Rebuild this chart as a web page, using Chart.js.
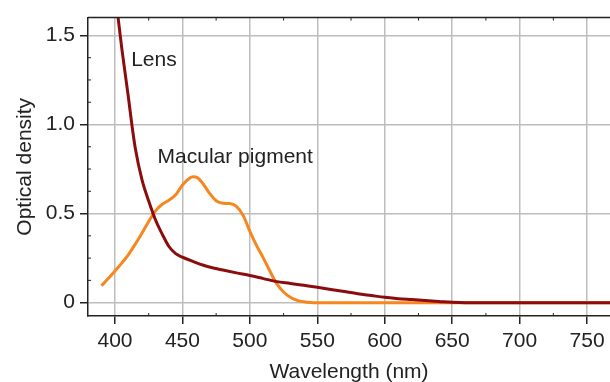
<!DOCTYPE html>
<html><head><meta charset="utf-8">
<script src="https://cdn.jsdelivr.net/npm/chart.js@4.4.0/dist/chart.umd.min.js"></script>
<style>html,body{margin:0;padding:0;background:#fff}</style>
</head><body>
<canvas id="c" width="610" height="382"></canvas>
<script>
// ---- data ----
const lensWavelength = [400,402,405,410,412.5,415,420,425,430,435,440,445,450,460,470,480,490,500,510,520,530,540,550,560,570,580,590,600,610,620,630,640,650,660,680,700,720,740,760,780];
const lensDensity = [1.75,1.62,1.43,1.15,1.0,0.87,0.69,0.57,0.465,0.385,0.315,0.275,0.255,0.225,0.2,0.183,0.167,0.152,0.135,0.118,0.108,0.097,0.086,0.074,0.062,0.05,0.04,0.03,0.022,0.017,0.012,0.007,0.002,0,0,0,0,0,0,0];
const mpWavelength = [390,395,400,405,410,415,420,425,430,435,440,445,450,455,458,461,465,470,475,480,485,490,495,500,505,510,515,520,525,530,535,540,545,550,600,650,700,780];
const mpDensity = [0.095,0.135,0.178,0.222,0.27,0.328,0.39,0.455,0.515,0.552,0.575,0.605,0.66,0.697,0.706,0.702,0.67,0.615,0.572,0.558,0.556,0.54,0.49,0.40,0.32,0.25,0.175,0.105,0.06,0.03,0.013,0.005,0.001,0,0,0,0,0];
const xTicks = [400,450,500,550,600,650,700,750];
const yTicks = [0,0.5,1.0,1.5];
const xMinorTicks = [425,475,525,575,625,675,725];
const yMinorTicks = [0.125,0.25,0.375,0.625,0.75,0.875,1.125,1.25,1.375];
const seriesLabels = ['Lens','Macular pigment'];
const labelAnchors = [[412,1.36],[431.6,0.816]];

const FONT = "'Liberation Sans', Arial, Helvetica, sans-serif";
const TEXT = '#222';
const FS = 21;

const decor = {
  id: 'decor',
  afterDraw(chart) {
    const {ctx, chartArea: a, scales: {x, y}} = chart;
    ctx.save();
    ctx.strokeStyle = '#222';
    ctx.lineWidth = 1.5;
    ctx.beginPath();
    ctx.moveTo(a.left, a.top); ctx.lineTo(a.right, a.top);
    ctx.stroke();
    ctx.lineWidth = 1;
    ctx.beginPath();
    xMinorTicks.forEach(v => {
      const px = x.getPixelForValue(v);
      ctx.moveTo(px, a.bottom); ctx.lineTo(px, a.bottom - 3);
      ctx.moveTo(px, a.top); ctx.lineTo(px, a.top + 3);
    });
    yMinorTicks.forEach(v => {
      const py = y.getPixelForValue(v);
      ctx.moveTo(a.left, py); ctx.lineTo(a.left + 3, py);
    });
    ctx.stroke();
    ctx.fillStyle = TEXT;
    ctx.font = FS + 'px ' + FONT;
    ctx.textAlign = 'left';
    ctx.textBaseline = 'middle';
    seriesLabels.forEach((t, i) => {
      ctx.fillText(t, x.getPixelForValue(labelAnchors[i][0]), y.getPixelForValue(labelAnchors[i][1]));
    });
    ctx.restore();
  }
};

new Chart(document.getElementById('c'), {
  type: 'line',
  data: {
    datasets: [
      { label: seriesLabels[0], data: lensWavelength.map((w, i) => ({x: w, y: lensDensity[i]})),
        borderColor: '#8b0c0c', borderWidth: 3, cubicInterpolationMode: 'monotone', pointRadius: 0 },
      { label: seriesLabels[1], data: mpWavelength.map((w, i) => ({x: w, y: mpDensity[i]})),
        borderColor: '#f7861e', borderWidth: 3, cubicInterpolationMode: 'monotone', pointRadius: 0 }
    ]
  },
  options: {
    responsive: false, animation: false, devicePixelRatio: 1,
    layout: {padding: {top: 13, right: 0, left: 0, bottom: 0}},
    plugins: {legend: {display: false}, tooltip: {enabled: false}},
    scales: {
      x: {
        type: 'linear', min: 380, max: 767,
        afterBuildTicks: s => { s.ticks = xTicks.map(v => ({value: v})); },
        afterFit: s => { s.height = 66; },
        ticks: {font: {family: FONT, size: FS}, color: TEXT, padding: 5, maxRotation: 0, autoSkip: false,
                callback: v => String(v)},
        grid: {color: '#bdbdbd', lineWidth: 1.5, tickColor: '#222', tickLength: 8, tickWidth: 1.5},
        border: {color: '#222', width: 1.5},
        title: {display: true, text: 'Wavelength (nm)', color: TEXT,
                font: {family: FONT, size: FS, lineHeight: 0.8}, padding: {top: 0, bottom: 1}}
      },
      y: {
        min: -0.075, max: 1.6,
        afterBuildTicks: s => { s.ticks = yTicks.map(v => ({value: v})); },
        afterFit: s => { s.width = 88; },
        ticks: {font: {family: FONT, size: FS}, color: TEXT, padding: 5,
                callback: v => v === 0 ? '0' : Number(v).toFixed(1)},
        grid: {color: '#bdbdbd', lineWidth: 1.5, tickColor: '#222', tickLength: 8, tickWidth: 1.5},
        border: {color: '#222', width: 1.5},
        title: {display: true, text: 'Optical density', color: TEXT,
                font: {family: FONT, size: FS}, padding: {top: 13, bottom: 0}}
      }
    }
  },
  plugins: [decor]
});
</script>
</body></html>
